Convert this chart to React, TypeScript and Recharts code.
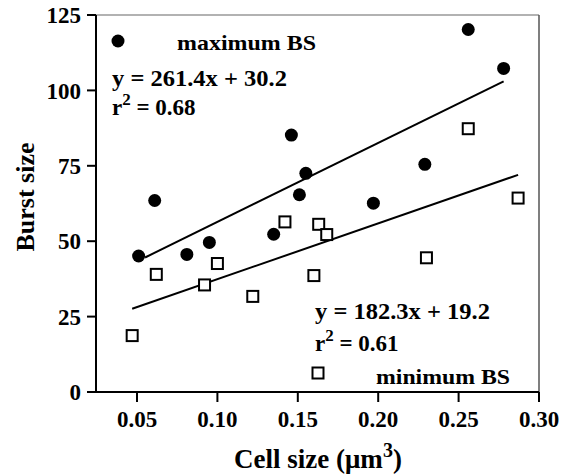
import React from "react";
import {
  ScatterChart,
  Scatter,
  XAxis,
  YAxis,
  ReferenceLine,
} from "recharts";

// maximum burst size (filled circles)
const maxX = [0.061, 0.051, 0.081, 0.095, 0.135, 0.146, 0.151, 0.155, 0.197, 0.229, 0.256, 0.278];
const maxY = [63.5, 45.1, 45.6, 49.6, 52.3, 85.2, 65.4, 72.5, 62.6, 75.5, 120.2, 107.3];

// minimum burst size (open squares)
const minX = [0.047, 0.062, 0.092, 0.1, 0.122, 0.142, 0.16, 0.163, 0.168, 0.23, 0.256, 0.287];
const minY = [18.7, 39.0, 35.5, 42.6, 31.7, 56.4, 38.6, 55.6, 52.2, 44.5, 87.3, 64.3];

// regression line ends
const maxFitX = [0.055, 0.278];
const maxFitY = [44.6, 103.0];
const minFitX = [0.047, 0.287];
const minFitY = [27.6, 72.0];

const xTicks = [0.05, 0.1, 0.15, 0.2, 0.25, 0.3];
const yTicks = [0, 25, 50, 75, 100, 125];

const toPoints = (xs: number[], ys: number[]) => xs.map((x, i) => ({ x, y: ys[i] }));

const font = "'Liberation Serif', 'Times New Roman', serif";

const Dot = (props: any) => {
  const { cx, cy } = props;
  return <circle cx={cx} cy={cy} r={6.5} fill="#000" />;
};

const Square = (props: any) => {
  const { cx, cy } = props;
  return <rect x={cx - 5.5} y={cy - 5.5} width={11} height={11} fill="#fff" stroke="#000" strokeWidth={2} />;
};

const None = () => null;

const tickStyle = { fontFamily: font, fontSize: 23, fontWeight: "bold", fill: "#000" };

export default function App() {
  return (
    <div style={{ position: "absolute", left: 0, top: 0, width: 569, height: 476, background: "#fff" }}>
      <ScatterChart width={569} height={476} margin={{ top: 15, right: 30, left: 0, bottom: 0 }}>
        <XAxis
          type="number"
          dataKey="x"
          domain={[0.0245, 0.3]}
          ticks={xTicks}
          allowDataOverflow
          tickFormatter={(v: number) => v.toFixed(2)}
          height={84}
          tickSize={10}
          tickMargin={9}
          axisLine={{ stroke: "#000", strokeWidth: 2 }}
          tickLine={{ stroke: "#000", strokeWidth: 2 }}
          tick={tickStyle}
        />
        <YAxis
          type="number"
          dataKey="y"
          domain={[0, 125]}
          ticks={yTicks}
          allowDataOverflow
          width={96}
          tickSize={9}
          tickMargin={6}
          axisLine={{ stroke: "#000", strokeWidth: 2 }}
          tickLine={{ stroke: "#000", strokeWidth: 2 }}
          tick={tickStyle}
        />
        <ReferenceLine y={125} stroke="#999" strokeWidth={1.5} />
        <ReferenceLine x={0.3} stroke="#555" strokeWidth={1.5} />
        <Scatter
          data={toPoints(maxFitX, maxFitY)}
          line={{ stroke: "#000", strokeWidth: 2 }}
          shape={None}
          isAnimationActive={false}
        />
        <Scatter
          data={toPoints(minFitX, minFitY)}
          line={{ stroke: "#000", strokeWidth: 2 }}
          shape={None}
          isAnimationActive={false}
        />
        <Scatter data={toPoints(maxX, maxY)} shape={Dot} isAnimationActive={false} />
        <Scatter data={toPoints(minX, minY)} shape={Square} isAnimationActive={false} />
      </ScatterChart>
      <svg
        width={569}
        height={476}
        style={{ position: "absolute", left: 0, top: 0, pointerEvents: "none" }}
        fontFamily={font}
        fontWeight="bold"
      >
        <circle cx={118} cy={41} r={6.5} fill="#000" />
        <text x={177} y={50} fontSize={22} textLength={139} lengthAdjust="spacingAndGlyphs">maximum BS</text>
        <text x={112} y={86} fontSize={23} textLength={175} lengthAdjust="spacingAndGlyphs">y = 261.4x + 30.2</text>
        <text x={112} y={115} fontSize={23}>
          r<tspan dy={-10} fontSize={17}>2</tspan>
          <tspan dy={10}> = 0.68</tspan>
        </text>
        <text x={315} y={319} fontSize={23} textLength={175} lengthAdjust="spacingAndGlyphs">y = 182.3x + 19.2</text>
        <text x={315} y={351} fontSize={23}>
          r<tspan dy={-10} fontSize={17}>2</tspan>
          <tspan dy={10}> = 0.61</tspan>
        </text>
        <rect x={312.5} y={367.5} width={11} height={11} fill="#fff" stroke="#000" strokeWidth={2} />
        <text x={376} y={384} fontSize={22} textLength={134} lengthAdjust="spacingAndGlyphs">minimum BS</text>
        <text
          x={0}
          y={0}
          fontSize={26}
          textAnchor="middle"
          transform="translate(34 197) rotate(-90)"
        >
          Burst size
        </text>
        <text x={318} y={468} fontSize={27} textAnchor="middle">
          Cell size (μm<tspan dy={-11} fontSize={20}>3</tspan>
          <tspan dy={11}>)</tspan>
        </text>
      </svg>
    </div>
  );
}
